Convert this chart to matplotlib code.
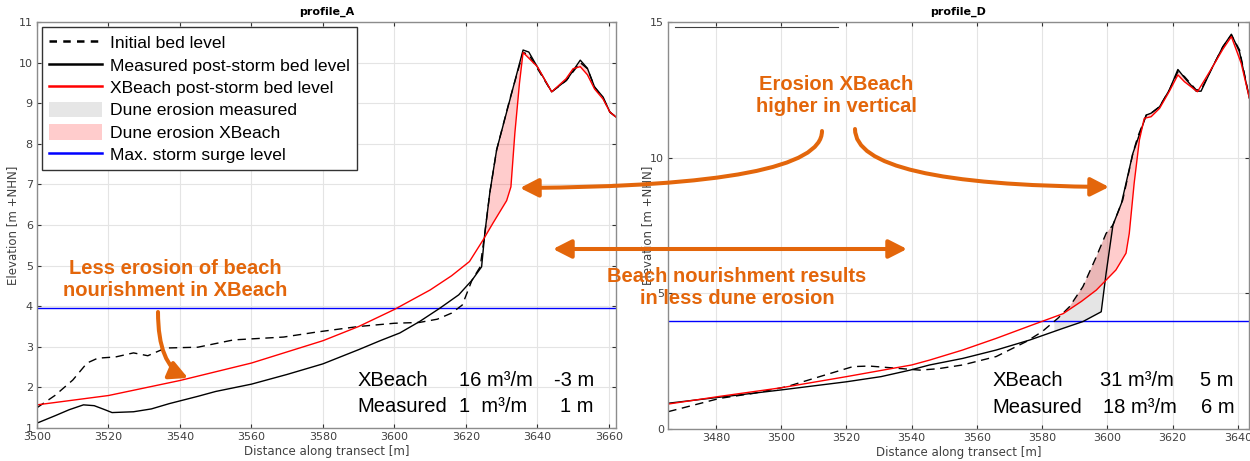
import numpy as np
import matplotlib
matplotlib.use("Agg")
import matplotlib.pyplot as plt
from matplotlib.lines import Line2D
from matplotlib.patches import Patch, FancyArrowPatch
from matplotlib.path import Path


# [ DATA - PROFILE A ]
#==========================================================================
xA_init = [3500, 3505, 3510, 3514, 3517, 3522, 3527, 3531, 3536, 3545, 3555, 3569, 3578, 3590,
           3600, 3607, 3612, 3616, 3619, 3621.7, 3624, 3625.3, 3626.7, 3628.6, 3632.3, 3636,
           3637.6, 3644, 3648, 3652, 3654, 3656, 3658.4, 3660.3, 3662]
yA_init = [1.5, 1.8, 2.18, 2.6, 2.72, 2.75, 2.85, 2.78, 2.97, 2.99, 3.17, 3.24, 3.36, 3.5,
           3.58, 3.6, 3.68, 3.83, 4.03, 4.64, 4.97, 5.8, 6.8, 7.85, 9.1, 10.25,
           10.2, 9.28, 9.55, 10.0, 9.85, 9.4, 9.12, 8.78, 8.66]

xA_meas = [3500, 3505, 3509, 3513, 3516, 3519, 3521, 3527, 3532, 3537, 3545, 3550, 3560, 3570,
           3580, 3590, 3596, 3601.5, 3607, 3612.7, 3618, 3621.7, 3624.4, 3625.3, 3626.7, 3628.6,
           3632.3, 3636, 3637.6, 3644, 3648.2, 3652, 3654, 3656, 3658.4, 3660.3, 3662]
yA_meas = [1.12, 1.3, 1.45, 1.57, 1.55, 1.45, 1.38, 1.4, 1.47, 1.6, 1.78, 1.9, 2.08, 2.32,
           2.58, 2.93, 3.15, 3.34, 3.62, 3.95, 4.28, 4.64, 4.97, 5.8, 6.8, 7.85,
           9.08, 10.31, 10.26, 9.28, 9.57, 10.06, 9.86, 9.4, 9.15, 8.78, 8.66]

xA_xb = [3500, 3520, 3540, 3560, 3580, 3590, 3600, 3610, 3616, 3621, 3624.8, 3627.6, 3631.4,
         3632.6, 3633.7, 3635, 3636, 3640, 3644, 3648, 3650, 3652, 3654, 3656, 3658.4, 3660.3, 3662]
yA_xb = [1.57, 1.8, 2.17, 2.6, 3.15, 3.5, 3.92, 4.4, 4.75, 5.1, 5.63, 6.05, 6.6,
         6.94, 8.26, 9.5, 10.25, 9.9, 9.28, 9.6, 9.85, 9.9, 9.7, 9.35, 9.1, 8.78, 8.66]

surgeA = 3.95

# [ DATA - PROFILE D ]
#==========================================================================
xD_init = [3465.4, 3481.2, 3491.3, 3501.7, 3511.8, 3522, 3527, 3535.3, 3542.5, 3548, 3555.6,
           3565.9, 3575.1, 3580, 3584.8, 3588.4, 3592.5, 3596.6, 3599.6, 3601.7, 3604.7, 3607.8,
           3609.3, 3611.9, 3613.4, 3616, 3619, 3621.6, 3623.6, 3627.2, 3628.7, 3632.3, 3635.4,
           3638, 3640.5, 3643.5]
yD_init = [0.64, 1.13, 1.31, 1.56, 1.93, 2.3, 2.32, 2.24, 2.17, 2.22, 2.36,
           2.67, 3.22, 3.59, 4.08, 4.51, 5.25, 6.35, 7.21, 7.52, 8.44, 10.16,
           10.77, 11.57, 11.64, 11.88, 12.5, 13.17, 12.99, 12.5, 12.5, 13.36, 14.09,
           14.52, 13.97, 12.2]

xD_meas = [3465.4, 3481, 3500, 3520, 3530.6, 3539.5, 3545.5, 3555.6, 3565.9, 3576.2, 3586.4,
           3592.5, 3598.1, 3599.6, 3601.7, 3604.3, 3607.8, 3611.9, 3613.4, 3616, 3619, 3621.6,
           3623.6, 3627.2, 3628.7, 3632.3, 3635.4, 3638, 3640.5, 3643.5]
yD_meas = [0.95, 1.17, 1.44, 1.74, 1.93, 2.17, 2.36, 2.6, 2.91, 3.28, 3.71,
           3.96, 4.32, 5.74, 7.52, 8.32, 10.16, 11.57, 11.64, 11.88, 12.5, 13.25,
           12.95, 12.45, 12.45, 13.36, 14.09, 14.55, 13.9, 12.2]

xD_xb = [3465.4, 3481, 3500, 3520, 3540, 3545.5, 3555.6, 3565.9, 3576.2, 3586.4, 3592, 3596.6,
         3599.6, 3602.6, 3605.7, 3606.7, 3608.2, 3609.8, 3611.3, 3613.4, 3616, 3619, 3621.6,
         3623.6, 3627.6, 3632.3, 3635.4, 3638, 3641, 3643.5]
yD_xb = [0.92, 1.2, 1.52, 1.93, 2.36, 2.54, 2.91, 3.34, 3.8, 4.25, 4.7, 5.12,
         5.49, 5.86, 6.48, 7.21, 9.06, 10.65, 11.45, 11.51, 11.82, 12.45, 13.05,
         12.8, 12.43, 13.36, 14.0, 14.46, 13.48, 12.2]

surgeD = 3.97

statsA = [["XBeach", "16 m³/m", "-3 m"], ["Measured", "1  m³/m", "1 m"]]
statsD = [["XBeach", "31 m³/m", "5 m"], ["Measured", "18 m³/m", "6 m"]]

ORANGE = "#E3660B"
TXT = "#404040"


def draw_profile(ax, title, xi, yi, xm, ym, xx, yx, surge, xlim, ylim, yticks):
    grid = np.linspace(xlim[0], xlim[1], 3000)
    gi = np.interp(grid, xi, yi)
    gm = np.interp(grid, xm, ym)
    gx = np.interp(grid, xx, yx)
    ax.fill_between(grid, gi, gm, where=(gi > gm) & (gi >= surge), interpolate=True,
                    color="0.5", alpha=0.2, lw=0)
    ax.fill_between(grid, gi, gx, where=(gi > gx) & (gi >= surge), interpolate=True,
                    color="red", alpha=0.2, lw=0)
    ax.axhline(surge, color="blue", lw=1)
    ax.plot(xi, yi, color="black", lw=1, ls=(0, (6, 4)))
    ax.plot(xm, ym, color="black", lw=1)
    ax.plot(xx, yx, color="red", lw=1)

    ax.set_xlim(xlim)
    ax.set_ylim(ylim)
    ax.set_yticks(yticks)
    ax.grid(True, color="#e4e4e4", lw=0.8)
    ax.set_axisbelow(True)
    ax.tick_params(direction="in", top=True, right=True, length=3, width=0.8,
                   labelsize=8, labelcolor=TXT, color="#303030", pad=3)
    for sp in ax.spines.values():
        sp.set_color("#8c8c8c")
        sp.set_linewidth(1)
    ax.set_title(title, fontsize=8, fontweight="bold", pad=5)
    ax.set_xlabel("Distance along transect [m]", fontsize=8.5, color=TXT, labelpad=2)
    ax.set_ylabel("Elevation [m +NHN]", fontsize=8.5, color=TXT, labelpad=0)


def draw_stats(ax, rows, cols, ys):
    for row, y in zip(rows, ys):
        ax.text(cols[0], y, row[0], transform=ax.transAxes, fontsize=14.5,
                family="Liberation Sans", va="center", ha="left")
        ax.text(cols[1], y, row[1], transform=ax.transAxes, fontsize=14.5,
                family="Liberation Sans", va="center", ha="left")
        ax.text(cols[2], y, row[2], transform=ax.transAxes, fontsize=14.5,
                family="Liberation Sans", va="center", ha="right")


# GRÁFICA
#==========================================================================
W, H = 1250, 461
fig = plt.figure(figsize=(W / 100, H / 100), dpi=100)
ax1 = fig.add_axes([37 / W, 33 / H, 579 / W, 406 / H])
ax2 = fig.add_axes([668 / W, 32 / H, 581 / W, 407 / H])

draw_profile(ax1, "profile_A", xA_init, yA_init, xA_meas, yA_meas, xA_xb, yA_xb, surgeA,
             (3500, 3662), (1, 11), range(1, 12))
draw_profile(ax2, "profile_D", xD_init, yD_init, xD_meas, yD_meas, xD_xb, yD_xb, surgeD,
             (3465.3, 3643.4), (0, 15), [0, 5, 10, 15])
ax2.set_xticks(range(3480, 3641, 20))
ax2.yaxis.labelpad = -3

draw_stats(ax1, statsA, [0.553, 0.729, 0.962], [0.118, 0.052])
draw_stats(ax2, [statsD[0]], [0.559, 0.744, 0.974], [0.120])
draw_stats(ax2, [statsD[1]], [0.559, 0.749, 0.976], [0.054])

# leftover legend edge in profile_D
ax2.add_line(Line2D([0.012, 0.293], [0.988, 0.988], transform=ax2.transAxes,
                    color="#404040", lw=0.8))

handles = [Line2D([], [], color="black", lw=1.8, ls=(0, (3, 2.5))),
           Line2D([], [], color="black", lw=1.8),
           Line2D([], [], color="red", lw=1.8),
           Patch(facecolor="#e6e6e6", edgecolor="none"),
           Patch(facecolor="#ffcccc", edgecolor="none"),
           Line2D([], [], color="blue", lw=1.8)]
labels = ["Initial bed level", "Measured post-storm bed level", "XBeach post-storm bed level",
          "Dune erosion measured", "Dune erosion XBeach", "Max. storm surge level"]
leg = ax1.legend(handles, labels, loc="upper left", prop={"family": "Liberation Sans", "size": 12.6},
                 handlelength=3, handleheight=1.0, labelspacing=0.32, borderaxespad=0.3,
                 borderpad=0.4, handletextpad=0.5, fancybox=False, framealpha=1,
                 edgecolor="#333333")
leg.get_frame().set_linewidth(1)


# annotations in figure pixels
def fp(x, y):
    return (x / W, 1 - y / H)


def curved_arrow(p0, p1, p2, style="-|>"):
    path = Path([fp(*p0), fp(*p1), fp(*p2)], [Path.MOVETO, Path.CURVE3, Path.CURVE3])
    arr = FancyArrowPatch(path=path, arrowstyle=style + ",head_length=0.55,head_width=0.28",
                          mutation_scale=20, color=ORANGE, lw=2.9, transform=fig.transFigure)
    fig.patches.append(arr)


txt_kw = dict(fontsize=14.5, fontweight="bold", family="Liberation Sans", color=ORANGE,
              ha="center", va="center", linespacing=1.2)
fig.text(*fp(175, 279), "Less erosion of beach\nnourishment in XBeach", **txt_kw)
fig.text(*fp(836, 95), "Erosion XBeach\nhigher in vertical", **txt_kw)
fig.text(*fp(737, 288), "Beach nourishment results\nin less dune erosion", **txt_kw)

curved_arrow((158, 312), (158, 365), (188, 378))
curved_arrow((822, 131), (822, 186), (520, 188))
curved_arrow((855, 129), (855, 185), (1109, 187))
curved_arrow((553, 249), (730, 249), (907, 249), style="<|-|>")

fig.savefig("out.png", dpi=100)
